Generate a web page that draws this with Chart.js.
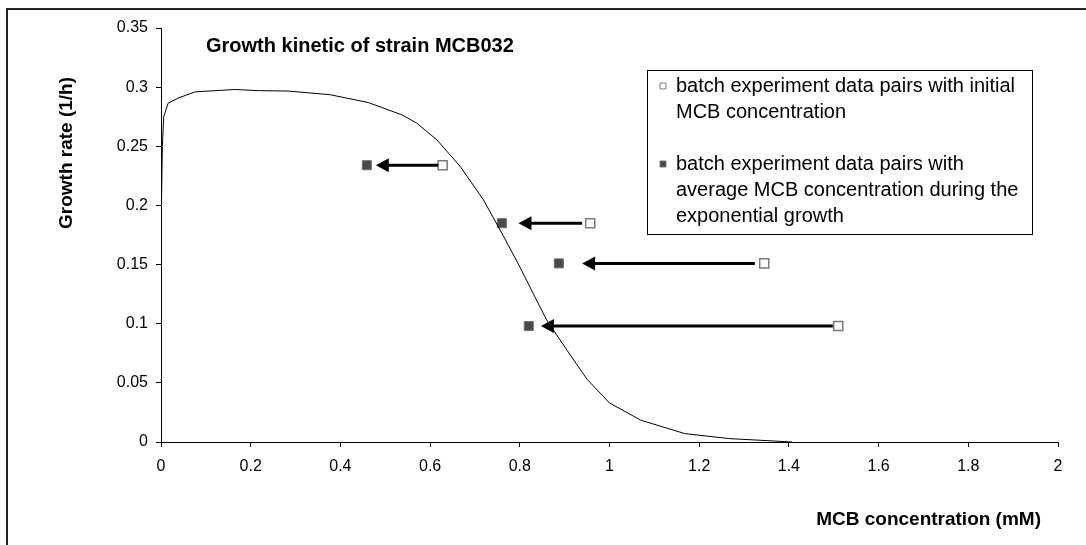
<!DOCTYPE html>
<html>
<head>
<meta charset="utf-8">
<script src="https://cdn.jsdelivr.net/npm/chart.js@4.4.0/dist/chart.umd.min.js"></script>
<style>
html, body { margin: 0; padding: 0; background: #fff; }
#wrap { width: 1086px; height: 545px; position: relative; }
</style>
</head>
<body>
<div id="wrap"><canvas id="myChart"></canvas></div>
<script>
// fitted growth curve
const curveX = [0, 0.001, 0.003, 0.006, 0.016, 0.04, 0.076, 0.12, 0.165, 0.22, 0.283, 0.377, 0.462, 0.537, 0.57, 0.615, 0.667, 0.719, 0.76, 0.796, 0.86, 0.905, 0.95, 1.0, 1.07, 1.168, 1.266, 1.407];
const curveY = [0.176, 0.2, 0.25, 0.275, 0.2865, 0.291, 0.296, 0.297, 0.298, 0.297, 0.2967, 0.2936, 0.287, 0.2766, 0.2696, 0.2555, 0.233, 0.2047, 0.1765, 0.151, 0.103, 0.0777, 0.053, 0.033, 0.0184, 0.0071, 0.0029, 0];

// batch experiments: initial vs average MCB concentration
const rateY = [0.234, 0.185, 0.151, 0.098];
const initialX = [0.628, 0.957, 1.345, 1.51];
const averageX = [0.459, 0.76, 0.887, 0.82];

// arrows (tail at initial side, tip at average side)
const arrowTail = [0.618, 0.939, 1.324, 1.498];
const arrowTip = [0.479, 0.797, 0.939, 0.847];

const xTicks = [0, 0.2, 0.4, 0.6, 0.8, 1, 1.2, 1.4, 1.6, 1.8, 2];
const yTicks = [0, 0.05, 0.1, 0.15, 0.2, 0.25, 0.3, 0.35];

const chartTitle = "Growth kinetic of strain MCB032";
const xTitle = "MCB concentration (mM)";
const yTitle = "Growth rate (1/h)";
const legendInitial = ["batch experiment data pairs with initial", "MCB concentration"];
const legendAverage = ["batch experiment data pairs with", "average MCB concentration during the", "exponential growth"];

const FONT = "Arial, 'Liberation Sans', sans-serif";

function toPoints(xs, ys) {
  return xs.map((x, i) => ({x: x, y: ys[i]}));
}

const extras = {
  id: 'extras',
  afterDatasetsDraw(chart) {
    const ctx = chart.ctx;
    const xs = chart.scales.x;
    const ys = chart.scales.y;
    ctx.save();

    // arrows
    ctx.strokeStyle = '#000';
    ctx.fillStyle = '#000';
    ctx.lineWidth = 3;
    for (let i = 0; i < rateY.length; i++) {
      const y = ys.getPixelForValue(rateY[i]);
      const x1 = xs.getPixelForValue(arrowTail[i]);
      const x2 = xs.getPixelForValue(arrowTip[i]);
      ctx.beginPath();
      ctx.moveTo(x1, y);
      ctx.lineTo(x2 + 10, y);
      ctx.stroke();
      ctx.beginPath();
      ctx.moveTo(x2, y);
      ctx.lineTo(x2 + 13, y - 7);
      ctx.lineTo(x2 + 13, y + 7);
      ctx.closePath();
      ctx.fill();
    }

    // outer frame
    ctx.strokeStyle = '#222';
    ctx.lineWidth = 2;
    ctx.beginPath();
    ctx.moveTo(7, 600);
    ctx.lineTo(7, 9);
    ctx.lineTo(1200, 9);
    ctx.stroke();

    // title
    ctx.fillStyle = '#000';
    ctx.font = "bold 20px " + FONT;
    ctx.textAlign = 'left';
    ctx.textBaseline = 'alphabetic';
    ctx.fillText(chartTitle, 206, 52);

    // axis titles
    ctx.font = "bold 19px " + FONT;
    ctx.textAlign = 'right';
    ctx.fillText(xTitle, 1041, 525);
    ctx.save();
    ctx.translate(72, 153);
    ctx.rotate(-Math.PI / 2);
    ctx.textAlign = 'center';
    ctx.fillText(yTitle, 0, 0);
    ctx.restore();

    // legend
    ctx.lineWidth = 1;
    ctx.strokeStyle = '#000';
    ctx.fillStyle = '#fff';
    ctx.fillRect(647.5, 70.5, 385, 164);
    ctx.strokeRect(647.5, 70.5, 385, 164);
    ctx.font = "20px " + FONT;
    ctx.textAlign = 'left';
    ctx.textBaseline = 'middle';
    ctx.fillStyle = '#000';
    legendInitial.forEach((t, i) => ctx.fillText(t, 676, 86 + i * 26));
    legendAverage.forEach((t, i) => ctx.fillText(t, 676, 164 + i * 26));
    const ds = chart.data.datasets;
    [[ds[1], 86], [ds[2], 164]].forEach(([d, yy]) => {
      ctx.fillStyle = d.backgroundColor;
      ctx.strokeStyle = d.borderColor;
      ctx.lineWidth = 1;
      Chart.helpers.drawPoint(ctx, {pointStyle: 'rect', radius: 4.2, borderWidth: 1}, 663, yy);
    });

    ctx.restore();
  }
};

const ctx = document.getElementById('myChart');

new Chart(ctx, {
  type: 'scatter',
  data: {
    datasets: [{
      label: 'fit',
      data: toPoints(curveX, curveY),
      showLine: true,
      borderColor: '#000',
      borderWidth: 1,
      pointRadius: 0,
      tension: 0
    }, {
      label: legendInitial.join(' '),
      data: toPoints(initialX, rateY),
      pointStyle: 'rect',
      pointRadius: 6.4,
      backgroundColor: '#fff',
      borderColor: '#7a7a7a',
      borderWidth: 1.5
    }, {
      label: legendAverage.join(' '),
      data: toPoints(averageX, rateY),
      pointStyle: 'rect',
      pointRadius: 6.4,
      backgroundColor: '#4a4a4a',
      borderColor: '#6e6e6e',
      borderWidth: 1
    }]
  },
  options: {
    responsive: true,
    maintainAspectRatio: false,
    animation: false,
    layout: { padding: { left: 0, top: 28, right: 28, bottom: 0 } },
    plugins: {
      legend: { display: false },
      tooltip: { enabled: false }
    },
    scales: {
      x: {
        type: 'linear',
        min: 0,
        max: 2,
        afterBuildTicks: (axis) => { axis.ticks = xTicks.map(v => ({value: v})); },
        afterFit: (scale) => { scale.height = 103; },
        ticks: {
          color: '#000',
          font: { family: FONT, size: 16 },
          padding: 10,
          maxRotation: 0,
          callback: (v) => String(v)
        },
        grid: { drawOnChartArea: false, drawTicks: true, tickLength: 5, color: '#000' },
        border: { display: true, color: '#000', width: 1 }
      },
      y: {
        type: 'linear',
        min: 0,
        max: 0.35,
        afterBuildTicks: (axis) => { axis.ticks = yTicks.map(v => ({value: v})); },
        afterFit: (scale) => { scale.width = 161; },
        ticks: {
          color: '#000',
          font: { family: FONT, size: 16 },
          padding: 8,
          callback: (v) => String(v)
        },
        grid: { drawOnChartArea: false, drawTicks: true, tickLength: 5, color: '#000' },
        border: { display: true, color: '#000', width: 1 }
      }
    }
  },
  plugins: [extras]
});
</script>
</body>
</html>
